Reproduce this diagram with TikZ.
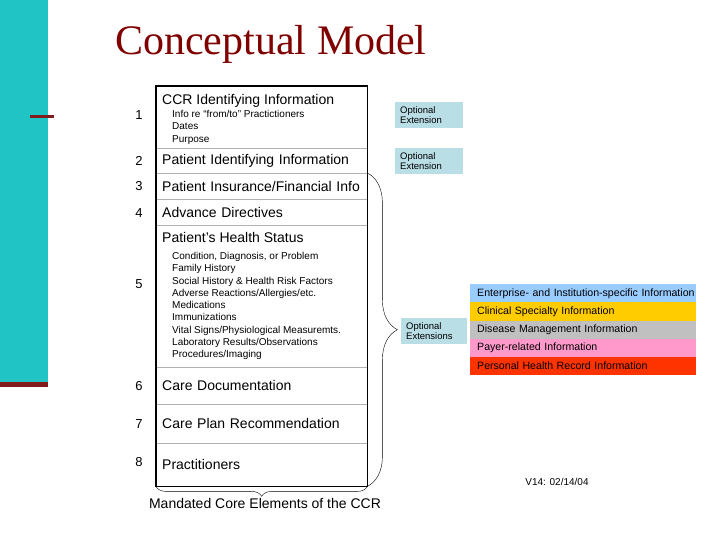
\documentclass[tikz,border=0pt]{standalone}
\usepackage{fontspec}
\setmainfont{Liberation Sans}
\newfontfamily\titlefont{Liberation Serif}
\usepackage{tikz}
\usetikzlibrary{decorations.pathreplacing}

\definecolor{slideteal}{RGB}{32,196,196}
\definecolor{slidered}{RGB}{130,28,28}
\definecolor{titlered}{RGB}{128,0,0}
\definecolor{optblue}{RGB}{185,222,230}
\definecolor{entblue}{RGB}{153,204,255}
\definecolor{clingold}{RGB}{255,204,0}
\definecolor{disgray}{RGB}{192,192,192}
\definecolor{paypink}{RGB}{255,153,204}
\definecolor{phrred}{RGB}{255,51,0}

\begin{document}
\begin{tikzpicture}[x=1pt,y=-1pt, every node/.style={font=\fontsize{14}{16}\selectfont}, row/.style={draw=gray!60,anchor=north west,minimum width=211pt,text width=199pt,inner xsep=6pt,inner ysep=0pt,align=left}, rowtitle/.style={anchor=base west,inner sep=0pt}, items/.style={anchor=north west,inner sep=0pt,align=left,font=\fontsize{10}{12.3}\selectfont}, num/.style={font=\fontsize{13}{15}\selectfont}, optbox/.style={fill=optblue,anchor=north west,minimum height=26pt,inner xsep=5pt,inner ysep=0pt,align=left,font=\fontsize{9.5}{10.5}\selectfont}, ext/.style={anchor=north west,minimum width=226pt,minimum height=18.4pt,text width=212pt,inner xsep=7pt,inner ysep=0pt,align=left,font=\fontsize{10.6}{12}\selectfont}, brc/.style={decorate,thin}]
\useasboundingbox (0,0) rectangle (720,540);
\fill[slideteal] (0,0) rectangle (48,382);
\fill[slidered] (0,382) rectangle (48,387);
\fill[slidered] (30,115.5) rectangle (54,118.5);
\node[anchor=base west,inner sep=0pt,text=titlered,font=\titlefont\fontsize{42}{46}\selectfont] (title) at (115,55) {Conceptual Model};
% core elements
\node[row,minimum height=62pt] (r1) at (156,86) {};
\node[row,minimum height=25pt] (r2) at (156,148) {Patient Identifying Information};
\node[row,minimum height=26pt] (r3) at (156,173) {Patient Insurance/Financial Info};
\node[row,minimum height=26pt] (r4) at (156,199) {Advance Directives};
\node[row,minimum height=142pt] (r5) at (156,225) {};
\node[row,minimum height=37pt] (r6) at (156,367) {Care Documentation};
\node[row,minimum height=39pt] (r7) at (156,404) {Care Plan Recommendation};
\node[row,minimum height=43pt] (r8) at (156,443) {Practitioners};
\draw[line width=1.6pt] (r1.north west) rectangle (r8.south east);
\node[rowtitle] (t1) at (162,105) {CCR Identifying Information};
\node[items] (i1) at (172,110) {Info re “from/to” Practictioners\\Dates\\Purpose};
\node[rowtitle] (t5) at (162,243) {Patient’s Health Status};
\node[items] (i5) at (172,252) {Condition, Diagnosis, or Problem\\Family History\\Social History \& Health Risk Factors\\Adverse Reactions/Allergies/etc.\\Medications\\Immunizations\\Vital Signs/Physiological Measuremts.\\Laboratory Results/Observations\\Procedures/Imaging};
\node[num] (n1) at (139,115) {1};
\node[num] (n2) at (139,161) {2};
\node[num] (n3) at (139,186) {3};
\node[num] (n4) at (139,213) {4};
\node[num] (n5) at (139,284) {5};
\node[num] (n6) at (139,386) {6};
\node[num] (n7) at (139,424) {7};
\node[num] (n8) at (139,462) {8};
\draw[brc,decoration={brace,amplitude=30pt}] (r3.north east) -- (r8.south east);
\draw[brc,decoration={brace,amplitude=10pt}] (r8.south east) -- (r8.south west);
\node (mand) at (265,503) {Mandated Core Elements of the CCR};
% optional extensions
\node[optbox,text width=58pt] (o1) at (395,102) {Optional\\Extension};
\node[optbox,text width=58pt] (o2) at (395,148) {Optional\\Extension};
\node[optbox,text width=56pt] (o3) at (401,318) {Optional\\Extensions};
\node[ext,fill=entblue] (e1) at (470,284) {\mbox{Enterprise- and Institution-specific Information}};
\node[ext,fill=clingold] (e2) at (470,302.2) {Clinical Specialty Information};
\node[ext,fill=disgray] (e3) at (470,320.4) {Disease Management Information};
\node[ext,fill=paypink] (e4) at (470,338.6) {Payer-related Information};
\node[ext,fill=phrred] (e5) at (470,356.8) {Personal Health Record Information};
\node[font=\fontsize{10}{12}\selectfont] (ver) at (557,482) {V14: 02/14/04};
\end{tikzpicture}
\end{document}
